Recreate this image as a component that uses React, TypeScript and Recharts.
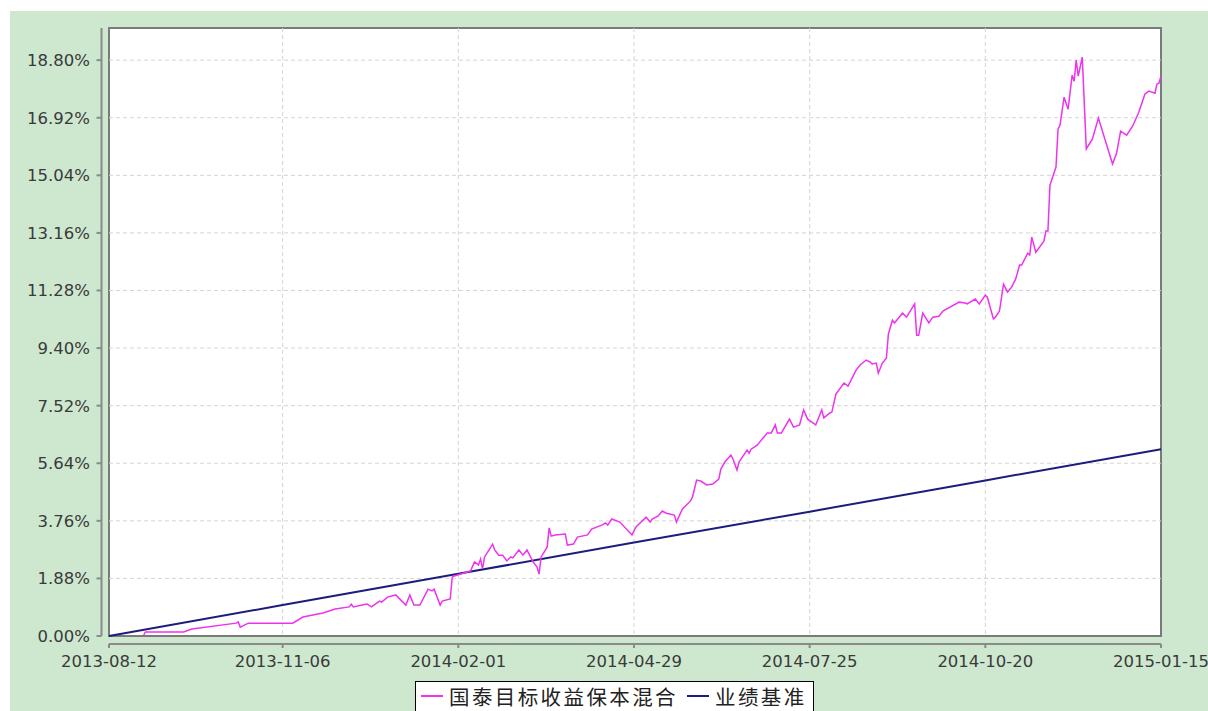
import { LineChart, Line, XAxis, YAxis, CartesianGrid, Legend } from 'recharts'

// day offset from 2013-08-12, return in %
const fundPoints: [number, number][] = [
  [17, 0], [18, 0.13], [37, 0.13], [41, 0.23], [63, 0.42], [64, 0.46], [65, 0.29], [69, 0.42],
  [91, 0.42], [96, 0.62], [106, 0.75], [112, 0.88], [119, 0.95], [120, 1.04], [121, 0.95], [127, 1.04],
  [128, 1.04], [130, 0.95], [134, 1.14], [135, 1.11], [138, 1.27], [142, 1.34], [147, 1.01], [149, 1.34],
  [151, 1.01], [154, 1.01], [158, 1.53], [160, 1.47], [161, 1.53], [164, 1.01], [165, 1.14], [169, 1.21],
  [170, 1.93], [171, 1.96], [179, 2.12], [181, 2.42], [183, 2.32], [184, 2.51], [185, 2.19], [186, 2.58],
  [190, 3.0], [191, 2.81], [193, 2.64], [195, 2.64], [197, 2.45], [199, 2.58], [200, 2.55], [203, 2.81],
  [205, 2.64], [207, 2.81], [210, 2.42], [212, 2.25], [213, 2.02], [214, 2.58], [217, 2.9], [218, 3.53],
  [219, 3.26], [221, 3.3], [226, 3.33], [227, 2.97], [230, 3.0], [232, 3.23], [237, 3.3], [239, 3.49],
  [244, 3.62], [246, 3.69], [247, 3.62], [249, 3.82], [253, 3.72], [259, 3.3], [261, 3.56], [266, 3.88],
  [268, 3.72], [269, 3.82], [272, 3.92], [274, 4.08], [276, 4.01], [280, 3.95], [281, 3.72], [284, 4.15],
  [288, 4.41], [289, 4.54], [291, 5.09], [293, 5.06], [296, 4.93], [299, 4.96], [302, 5.12], [303, 5.45],
  [305, 5.68], [308, 5.91], [309, 5.78], [311, 5.42], [312, 5.68], [316, 6.07], [317, 5.97], [318, 6.1],
  [321, 6.23], [326, 6.63], [328, 6.63], [330, 6.89], [331, 6.63], [333, 6.63], [337, 7.08], [339, 6.82],
  [342, 6.89], [344, 7.38], [346, 7.08], [350, 6.89], [351, 7.05], [353, 7.38], [354, 7.12], [357, 7.28],
  [358, 7.31], [360, 7.9], [364, 8.26], [366, 8.16], [370, 8.68], [372, 8.85], [375, 9.01], [377, 8.94],
  [378, 8.88], [380, 8.91], [381, 8.58], [383, 8.91], [385, 9.07], [386, 9.86], [387, 10.09], [388, 10.31],
  [389, 10.22], [393, 10.54], [395, 10.41], [399, 10.84], [400, 9.82], [401, 9.82], [403, 10.54], [406, 10.22],
  [408, 10.41], [411, 10.44], [413, 10.61], [421, 10.9], [424, 10.87], [425, 10.84], [429, 11.0], [431, 10.84],
  [434, 11.13], [435, 11.06], [438, 10.35], [439, 10.41], [441, 10.61], [443, 11.49], [445, 11.23], [447, 11.39],
  [449, 11.65], [451, 12.11], [452, 12.11], [455, 12.5], [456, 12.44], [457, 13.02], [459, 12.53], [463, 12.89],
  [464, 13.22], [465, 13.22], [466, 14.72], [469, 15.31], [470, 16.55], [471, 16.68], [473, 17.59], [475, 17.2],
  [477, 18.31], [478, 18.11], [479, 18.8], [480, 18.28], [482, 18.9], [484, 15.9], [486, 16.12], [487, 16.22],
  [490, 16.91], [497, 15.41], [499, 15.76], [501, 16.48], [504, 16.35], [507, 16.65], [510, 17.1], [513, 17.69],
  [515, 17.79], [518, 17.72], [519, 18.02], [520, 18.05], [521, 18.28]
]

const benchmarkPoints: [number, number][] = [
  [0, 0], [86, 1.01], [173, 2.03], [260, 3.05], [347, 4.06], [434, 5.08], [521, 6.1]
]

const xTicks = [0, 86, 173, 260, 347, 434, 521]
const xTickLabels = ['2013-08-12', '2013-11-06', '2014-02-01', '2014-04-29', '2014-07-25', '2014-10-20', '2015-01-15']
const yTicks = [0, 1.88, 3.76, 5.64, 7.52, 9.4, 11.28, 13.16, 15.04, 16.92, 18.8]

const fundName = '国泰目标收益保本混合'
const benchmarkName = '业绩基准'
const fundColor = '#ee33ee'
const benchmarkColor = '#1c1c7c'

const fundData = fundPoints.map(([day, value]) => ({ day, value }))
const benchmarkData = benchmarkPoints.map(([day, value]) => ({ day, value }))

const tickFont = { fontFamily: 'DejaVu Sans', fontSize: 16.5, fill: '#3a3a3a' }

const LegendBox = () => {
  const item = (color: string, label: string, gap: number) => (
    <span style={{ display: 'flex', alignItems: 'center', marginRight: gap }}>
      <span style={{ width: 22, height: 0, borderTop: `2px solid ${color}`, marginRight: 6 }} />
      <span style={{ letterSpacing: 2.4 }}>{label}</span>
    </span>
  )
  return (
    <div style={{
      display: 'flex',
      alignItems: 'center',
      height: 38,
      padding: '0 6px 8px 5px',
      boxSizing: 'border-box',
      background: '#fff',
      border: '1px solid #000',
      fontFamily: '"Noto Sans CJK SC"',
      fontSize: 20.5,
      color: '#222',
      whiteSpace: 'nowrap'
    }}>
      {item(fundColor, fundName, 9)}
      {item(benchmarkColor, benchmarkName, 0)}
    </div>
  )
}

const App = () => {
  return (
    <div style={{ position: 'absolute', left: 10, top: 11, width: 1198, height: 700, background: '#cde8cf', overflow: 'hidden' }}>
      <div style={{ position: 'absolute', left: 98, top: 16, width: 1054, height: 610, boxSizing: 'border-box', background: '#fff', border: '2px solid #7a7a7a' }} />
      <LineChart width={1198} height={700} margin={{ top: 17, right: 47, bottom: 0, left: 0 }}>
        <CartesianGrid
          stroke="#d4d4d4"
          strokeDasharray="4 3"
          verticalValues={xTicks.slice(1, -1)}
          horizontalValues={yTicks.slice(1)}
        />
        <XAxis
          dataKey="day"
          type="number"
          domain={[0, 521]}
          ticks={xTicks}
          interval={0}
          height={75}
          tickSize={4}
          tickMargin={15}
          tick={tickFont}
          tickFormatter={(v: number) => xTickLabels[xTicks.indexOf(v)]}
          axisLine={{ stroke: '#8a8a8a', strokeWidth: 2, transform: 'translate(0,8)' }}
          tickLine={{ stroke: '#8a8a8a', strokeWidth: 2, transform: 'translate(0,8)' }}
        />
        <YAxis
          type="number"
          domain={[0, 19.85]}
          ticks={yTicks}
          interval={0}
          width={99}
          tickSize={5}
          tickMargin={14}
          tick={tickFont}
          tickFormatter={(v: number) => v.toFixed(2) + '%'}
          axisLine={{ stroke: '#8a8a8a', strokeWidth: 2, transform: 'translate(-7.5,0)' }}
          tickLine={{ stroke: '#8a8a8a', strokeWidth: 2, transform: 'translate(-7.5,0)' }}
        />
        <Line data={benchmarkData} dataKey="value" name={benchmarkName} stroke={benchmarkColor} strokeWidth={2} dot={false} activeDot={false} isAnimationActive={false} />
        <Line data={fundData} dataKey="value" name={fundName} stroke={fundColor} strokeWidth={1.5} dot={false} activeDot={false} isAnimationActive={false} />
        <Legend
          layout="horizontal"
          verticalAlign="middle"
          align="center"
          content={<LegendBox />}
          wrapperStyle={{ left: 405, top: 670, width: 'auto' }}
        />
      </LineChart>
    </div>
  )
}

export default App
